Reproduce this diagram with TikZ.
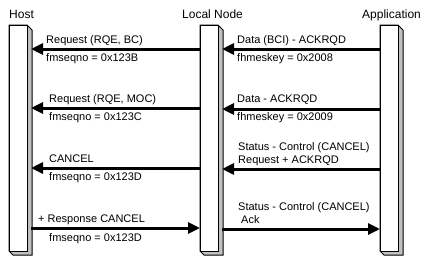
\documentclass[tikz,border=0pt]{standalone}
\usepackage{fontspec}
\setmainfont{Liberation Sans}
\usetikzlibrary{arrows.meta}
\definecolor{sideGray}{HTML}{C0C0C0}

\begin{document}
\begin{tikzpicture}[x=1pt,y=-1pt,line join=miter]
\path[fill=white] (0,0) rectangle (436,258);
\tikzset{bar/.style={draw=black,fill=white,line width=1pt,minimum width=18pt,minimum height=226pt,inner sep=0pt},barside/.style={draw=black,fill=sideGray,line width=1pt},msg/.style={draw=black,line width=3pt,-{Triangle[length=12pt,width=11pt]}},head/.style={font=\fontsize{12}{14}\selectfont,inner sep=0pt,anchor=base west},lbl/.style={font=\fontsize{11}{13}\selectfont,inner sep=0pt,anchor=base west}}
% lifelines with a shaded side and foot
\foreach \nm/\xl in {host/9,lnode/200,app/380} {
  \path[barside] (\xl,25) -- (\xl+18,25) -- (\xl+23,30) -- (\xl+23,255) -- (\xl+4,255) -- (\xl,251) -- cycle;
  \node[bar,anchor=north west] (\nm) at (\xl,25) {};
  \coordinate (\nm-side) at (\xl+22,140);
}
\node[head] (hhost) at (9,18) {Host};
\node[head] (hlnode) at (182,18) {Local Node};
\node[head] (happ) at (362,18) {Application};
% host <-> local node
\draw[msg] (lnode.west |- 0,49) -- (host-side |- 0,49);
\node[lbl] (req1) at (46,43) {Request (RQE, BC)};
\node[lbl] (seq1) at (46,61) {fmseqno = 0x123B};
\draw[msg] (lnode.west |- 0,108) -- (host-side |- 0,108);
\node[lbl] (req2) at (49,102) {Request (RQE, MOC)};
\node[lbl] (seq2) at (49,120) {fmseqno = 0x123C};
\draw[msg] (lnode.west |- 0,168) -- (host-side |- 0,168);
\node[lbl] (cancel) at (49,162) {CANCEL};
\node[lbl] (seq3) at (49,180) {fmseqno = 0x123D};
\draw[msg] (host-side |- 0,228) -- (lnode.west |- 0,228);
\node[lbl] (resp) at (38,222) {+ Response CANCEL};
\node[lbl] (seq4) at (49,241) {fmseqno = 0x123D};
% local node <-> application
\draw[msg] (app.west |- 0,49) -- (lnode-side |- 0,49);
\node[lbl] (data1) at (237,43) {Data (BCI) - ACKRQD};
\node[lbl] (key1) at (237,61) {fhmeskey = 0x2008};
\draw[msg] (app.west |- 0,109) -- (lnode-side |- 0,109);
\node[lbl] (data2) at (237,102) {Data - ACKRQD};
\node[lbl] (key2) at (237,120) {fhmeskey = 0x2009};
\draw[msg] (app.west |- 0,169) -- (lnode-side |- 0,169);
\node[lbl] (stat1) at (238,150) {Status - Control (CANCEL)};
\node[lbl] (ackrqd) at (238,163) {Request + ACKRQD};
\draw[msg] (lnode-side |- 0,229) -- (app.west |- 0,229);
\node[lbl] (stat2) at (238,210) {Status - Control (CANCEL)};
\node[lbl] (ack) at (241,223) {Ack};
\end{tikzpicture}
\end{document}
